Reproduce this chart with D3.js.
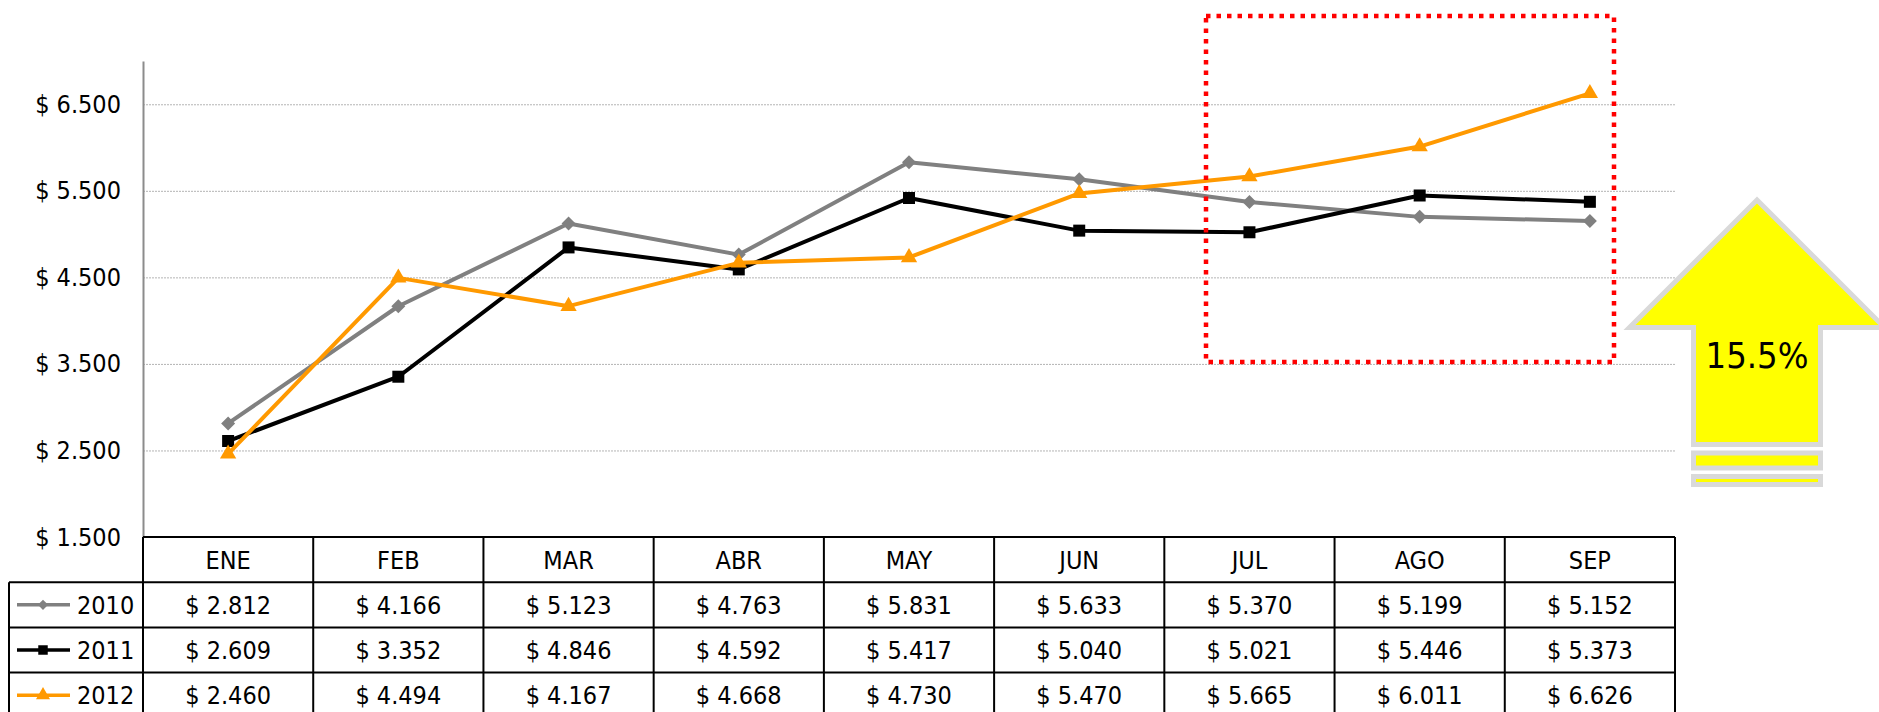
<!DOCTYPE html>
<html>
<head>
<meta charset="utf-8">
<script src="https://cdn.jsdelivr.net/npm/d3@7"></script>
<style>
  body { margin: 0; background: #fff; }
  svg { display: block; font-family: "DejaVu Sans Condensed", "DejaVu Sans", sans-serif; font-stretch: condensed; }
</style>
</head>
<body>
<svg id="chart" width="1879" height="712"></svg>
<script>
var months = ["ENE", "FEB", "MAR", "ABR", "MAY", "JUN", "JUL", "AGO", "SEP"];
var years = ["2010", "2011", "2012"];
var v2010 = [2812, 4166, 5123, 4763, 5831, 5633, 5370, 5199, 5152];
var v2011 = [2609, 3352, 4846, 4592, 5417, 5040, 5021, 5446, 5373];
var v2012 = [2460, 4494, 4167, 4668, 4730, 5470, 5665, 6011, 6626];
var yTicks = [1500, 2500, 3500, 4500, 5500, 6500];
var growthLabel = "15.5%";

var series = [
    {name: years[0], values: v2010, color: "#808080", shape: "diamond"},
    {name: years[1], values: v2011, color: "#000000", shape: "square"},
    {name: years[2], values: v2012, color: "#ff9900", shape: "triangle"}
];

var locale = d3.formatLocale({decimal: ",", thousands: ".", grouping: [3], currency: ["$ ", ""]});
var money = locale.format("$,");

var svg = d3.select("#chart"),
    margin = {top: 61, left: 143, right: 204},
    width = +svg.attr("width") - margin.left - margin.right,
    plotBottom = 537,
    height = plotBottom - margin.top,
    rowH = 45.2,
    fontSize = 25;

var x = d3.scaleBand().domain(months).range([0, width]);
var y = d3.scaleLinear().domain([1500, 7000]).range([height, 0]);

var g = svg.append("g").attr("transform", "translate(" + margin.left + "," + margin.top + ")");

// gridlines
g.append("g")
    .selectAll("line")
    .data(yTicks.slice(1))
    .enter().append("line")
    .attr("x1", 0)
    .attr("x2", width)
    .attr("y1", function (d) { return y(d) + 0.5; })
    .attr("y2", function (d) { return y(d) + 0.5; })
    .attr("stroke", "#b4b4b4")
    .attr("stroke-width", 1)
    .attr("stroke-dasharray", "2,1");

// y axis
var yAxis = g.append("g")
    .call(d3.axisLeft(y).tickValues(yTicks).tickSize(0).tickPadding(22).tickFormat(money));
yAxis.select(".domain").attr("stroke", "#8c8c8c").attr("stroke-width", 2);
yAxis.selectAll("text").attr("font-size", fontSize).attr("fill", "#000")
    .attr("font-family", "\"DejaVu Sans Condensed\", \"DejaVu Sans\", sans-serif");

function symbolFor(shape, big) {
    if (shape === "diamond") return d3.symbol().type(d3.symbolSquare).size(big ? 98 : 52)();
    if (shape === "square") return d3.symbol().type(d3.symbolSquare).size(big ? 144 : 90)();
    return d3.symbol().type(d3.symbolTriangle).size(big ? 115 : 85)();
}

var line = d3.line()
    .x(function (d, i) { return x(months[i]) + x.bandwidth() / 2; })
    .y(function (d) { return y(d); });

var sg = g.append("g")
    .selectAll("g")
    .data(series)
    .enter().append("g");

sg.append("path")
    .attr("d", function (d) { return line(d.values); })
    .attr("fill", "none")
    .attr("stroke", function (d) { return d.color; })
    .attr("stroke-width", 4)
    .attr("stroke-linejoin", "round");

sg.selectAll(".mark")
    .data(function (d) {
        return d.values.map(function (v, i) { return {s: d, v: v, i: i}; });
    })
    .enter().append("path")
    .attr("class", "mark")
    .attr("d", function (d) { return symbolFor(d.s.shape, true); })
    .attr("transform", function (d) {
        var t = "translate(" + (x(months[d.i]) + x.bandwidth() / 2) + "," + y(d.v) + ")";
        return d.s.shape === "diamond" ? t + " rotate(45)" : t;
    })
    .attr("fill", function (d) { return d.s.color; });

// data table
var table = svg.append("g").attr("transform", "translate(" + margin.left + "," + plotBottom + ")");
var legendW = margin.left - 9;

table.append("g")
    .selectAll("text")
    .data(months)
    .enter().append("text")
    .attr("x", function (d) { return x(d) + x.bandwidth() / 2; })
    .attr("y", rowH / 2)
    .attr("dy", "0.36em")
    .attr("text-anchor", "middle")
    .attr("font-size", fontSize)
    .text(function (d) { return d; });

var rows = table.selectAll(".row")
    .data(series)
    .enter().append("g")
    .attr("class", "row")
    .attr("transform", function (d, i) { return "translate(0," + (i + 1) * rowH + ")"; });

rows.selectAll("text")
    .data(function (d) { return d.values; })
    .enter().append("text")
    .attr("x", function (d, i) { return x(months[i]) + x.bandwidth() / 2; })
    .attr("y", rowH / 2)
    .attr("dy", "0.36em")
    .attr("text-anchor", "middle")
    .attr("font-size", fontSize)
    .text(function (d) { return money(d); });

// legend keys
rows.append("line")
    .attr("x1", -legendW + 8)
    .attr("x2", -legendW + 61)
    .attr("y1", rowH / 2)
    .attr("y2", rowH / 2)
    .attr("stroke", function (d) { return d.color; })
    .attr("stroke-width", 3.5);

rows.append("path")
    .attr("d", function (d) { return symbolFor(d.shape, false); })
    .attr("transform", function (d) {
        var t = "translate(" + (-legendW + 34) + "," + rowH / 2 + ")";
        return d.shape === "diamond" ? t + " rotate(45)" : t;
    })
    .attr("fill", function (d) { return d.color; });

rows.append("text")
    .attr("x", -legendW + 68)
    .attr("y", rowH / 2)
    .attr("dy", "0.36em")
    .attr("font-size", fontSize)
    .text(function (d) { return d.name; });

// grid of the table
var borders = table.append("g").attr("stroke", "#000").attr("stroke-width", 2).attr("fill", "none");
var nRows = series.length + 1;
borders.selectAll(".h")
    .data(d3.range(nRows + 1))
    .enter().append("line")
    .attr("x1", function (d) { return d === 0 ? 0 : -legendW; })
    .attr("x2", width)
    .attr("y1", function (d) { return d * rowH; })
    .attr("y2", function (d) { return d * rowH; });
borders.selectAll(".v")
    .data(d3.range(months.length + 1))
    .enter().append("line")
    .attr("x1", function (d) { return d * x.bandwidth(); })
    .attr("x2", function (d) { return d * x.bandwidth(); })
    .attr("y1", 0)
    .attr("y2", nRows * rowH);
borders.append("line")
    .attr("x1", -legendW).attr("x2", -legendW)
    .attr("y1", rowH).attr("y2", nRows * rowH);

// highlight box
svg.append("rect")
    .attr("x", 1206)
    .attr("y", 16)
    .attr("width", 408)
    .attr("height", 346)
    .attr("fill", "none")
    .attr("stroke", "#ff0000")
    .attr("stroke-width", 4.5)
    .attr("stroke-dasharray", "4.5,6");

// growth arrow
var arrow = svg.append("g");
arrow.append("path")
    .attr("d", "M1757,200 L1884.5,327.5 L1820.5,327.5 L1820.5,444.5 L1693.5,444.5 L1693.5,327.5 L1629.5,327.5 Z")
    .attr("fill", "#ffff00")
    .attr("stroke", "#d9d9d9")
    .attr("stroke-width", 5)
    .attr("stroke-linejoin", "miter");
arrow.append("rect")
    .attr("x", 1693.5).attr("y", 453).attr("width", 127).attr("height", 15)
    .attr("fill", "#ffff00").attr("stroke", "#d9d9d9").attr("stroke-width", 5);
arrow.append("rect")
    .attr("x", 1693.5).attr("y", 476.5).attr("width", 127).attr("height", 8)
    .attr("fill", "#ffff00").attr("stroke", "#d9d9d9").attr("stroke-width", 5);
arrow.append("text")
    .attr("x", 1757)
    .attr("y", 368)
    .attr("text-anchor", "middle")
    .attr("font-size", 36)
    .text(growthLabel);
</script>
</body>
</html>
